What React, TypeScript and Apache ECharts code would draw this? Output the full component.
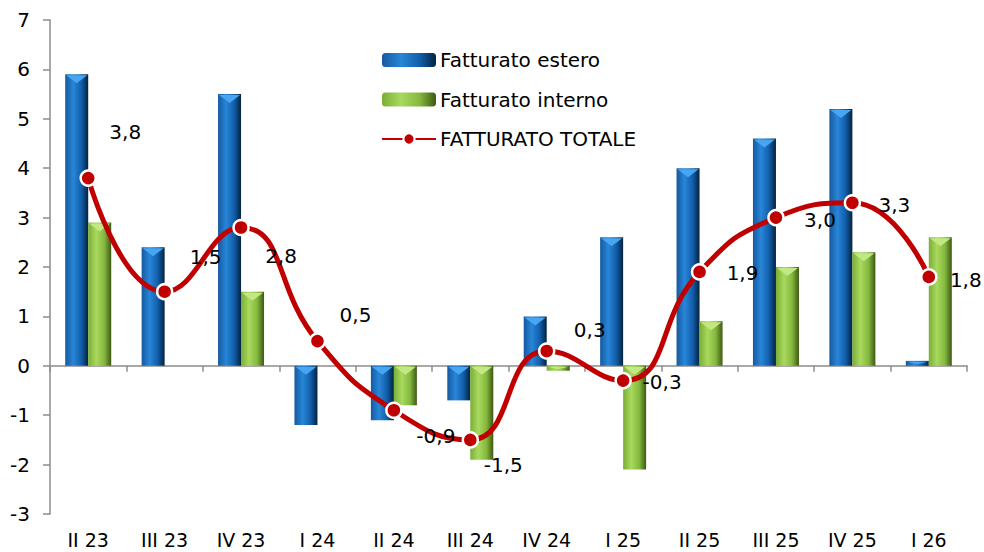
import React, { useEffect, useRef } from "react";
import * as echarts from "echarts";

// ---- data ----
const categories = ["II 23", "III 23", "IV 23", "I 24", "II 24", "III 24", "IV 24", "I 25", "II 25", "III 25", "IV 25", "I 26"];
const estero = [5.9, 2.4, 5.5, -1.2, -1.1, -0.7, 1.0, 2.6, 4.0, 4.6, 5.2, 0.1];
const interno = [2.9, 0, 1.5, 0, -0.8, -1.9, -0.1, -2.1, 0.9, 2.0, 2.3, 2.6];
const totale = [3.8, 1.5, 2.8, 0.5, -0.9, -1.5, 0.3, -0.3, 1.9, 3.0, 3.3, 1.8];
const yMin = -3;
const yMax = 7;
const yStep = 1;
const seriesNames = ["Fatturato estero", "Fatturato interno", "FATTURATO TOTALE"];

// ---- styling (label offsets relative to the point, in px) ----
const labelOffsets: [number, number][] = [
  [37, -46], [41, -35], [40, 29], [38, -26], [42, 26], [33, 25],
  [43, -21], [39, 1], [43, 1], [44, 2], [42, 2], [37, 3],
];

const FONT = "DejaVu Sans";
const BAR_W = 23;

const blueGrad = new echarts.graphic.LinearGradient(0, 0, 1, 0, [
  { offset: 0, color: "#16599f" },
  { offset: 0.35, color: "#2886d8" },
  { offset: 0.7, color: "#125eaa" },
  { offset: 1, color: "#03223f" },
]);
const greenGrad = new echarts.graphic.LinearGradient(0, 0, 1, 0, [
  { offset: 0, color: "#7aae35" },
  { offset: 0.35, color: "#a9d95f" },
  { offset: 0.7, color: "#85b83e" },
  { offset: 1, color: "#3d5913" },
]);

function bevel(dx: number, color: string) {
  return (params: any, api: any) => {
    const i = api.value(0);
    const v = api.value(1);
    if (!v) return null;
    const top = api.coord([i, Math.max(v, 0)]);
    const bot = api.coord([i, Math.min(v, 0)]);
    const x = top[0] + dx;
    const y = top[1];
    const h = Math.min(8, (bot[1] - y) / 2);
    const half = BAR_W / 2 - 1;
    return {
      type: "polygon",
      shape: { points: [[x - half, y + 1], [x + half, y + 1], [x, y + 1 + h]] },
      style: { fill: color },
      silent: true,
    };
  };
}

export default function App() {
  const ref = useRef<HTMLDivElement>(null);
  useEffect(() => {
    if (!ref.current) return;
    const chart = echarts.init(ref.current, null, { renderer: "svg" });
    chart.setOption({
      animation: false,
      backgroundColor: "#ffffff",
      textStyle: { fontFamily: FONT, color: "#000" },
      grid: { left: 50, right: 17, top: 20, bottom: 38 },
      legend: {
        data: seriesNames,
        orient: "vertical",
        left: 376,
        top: 45,
        itemWidth: 54,
        itemHeight: 14,
        itemGap: 19.5,
        textStyle: { fontFamily: FONT, fontSize: 20, color: "#000", lineHeight: 18, padding: [0, 0, 0, -1] },
      },
      xAxis: [
        {
          type: "category",
          data: categories,
          position: "bottom",
          axisLine: { show: false, onZero: false },
          axisTick: { show: false },
          axisLabel: { fontFamily: FONT, fontSize: 19, color: "#000", margin: 16, interval: 0 },
          splitLine: { show: false },
        },
        {
          type: "category",
          data: categories,
          position: "top",
          axisLine: { show: true, onZero: true, lineStyle: { color: "#8c8c8c", width: 1.5 } },
          axisTick: { show: true, inside: true, length: 6, lineStyle: { color: "#8c8c8c", width: 1.5 } },
          axisLabel: { show: false },
          splitLine: { show: false },
        },
      ],
      yAxis: {
        type: "value",
        min: yMin,
        max: yMax,
        interval: yStep,
        axisLine: { show: true, lineStyle: { color: "#8c8c8c", width: 1.5 } },
        axisTick: { show: true, length: 7, lineStyle: { color: "#8c8c8c", width: 1.5 } },
        axisLabel: { fontFamily: FONT, fontSize: 20, color: "#000", margin: 20 },
        splitLine: { show: false },
      },
      series: [
        {
          name: seriesNames[0],
          type: "bar",
          data: estero,
          barWidth: BAR_W,
          barGap: "0%",
          itemStyle: { color: blueGrad },
          z: 2,
        },
        {
          name: seriesNames[1],
          type: "bar",
          data: interno,
          barWidth: BAR_W,
          barGap: "0%",
          itemStyle: { color: greenGrad },
          z: 2,
        },
        {
          name: "bevelEstero",
          type: "custom",
          data: estero.map((v, i) => [i, v]),
          renderItem: bevel(-BAR_W / 2, "#46a6f2"),
          z: 3,
          silent: true,
        },
        {
          name: "bevelInterno",
          type: "custom",
          data: interno.map((v, i) => [i, v]),
          renderItem: bevel(BAR_W / 2, "#c2e884"),
          z: 3,
          silent: true,
        },
        {
          name: seriesNames[2],
          type: "line",
          data: totale.map((v, i) => ({
            value: v,
            label: { offset: labelOffsets[i] },
          })),
          smooth: 0.5,
          symbol: "circle",
          symbolSize: 15,
          lineStyle: { color: "#c00000", width: 5 },
          itemStyle: { color: "#c00000", borderColor: "#ffffff", borderWidth: 2.5 },
          label: {
            show: true,
            position: "inside",
            fontFamily: FONT,
            fontSize: 20,
            color: "#000",
            formatter: (p: any) => Number(p.value).toFixed(1).replace(".", ","),
          },
          z: 5,
        },
      ],
    });
    return () => chart.dispose();
  }, []);
  return (
    <div
      ref={ref}
      style={{ position: "fixed", left: 0, top: 0, width: 984, height: 552, background: "#fff" }}
    />
  );
}
